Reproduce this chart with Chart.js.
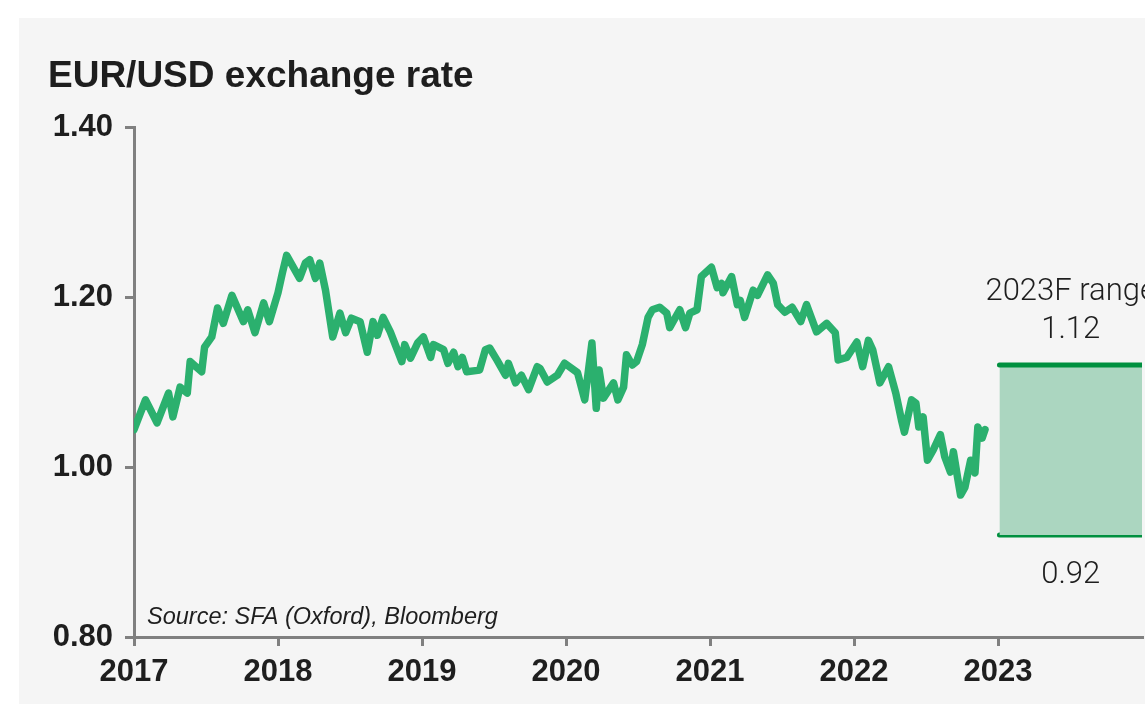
<!DOCTYPE html>
<html>
<head>
<meta charset="utf-8">
<script src="https://cdn.jsdelivr.net/npm/chart.js@4/dist/chart.umd.min.js"></script>
<style>
  html, body { margin: 0; padding: 0; background: #ffffff; }
  #wrap { width: 1145px; height: 704px; }
</style>
</head>
<body>
<div id="wrap"><canvas id="fxChart" width="1145" height="704"></canvas></div>
<script>
// EUR/USD (decimal years)
const dates = [
  2017.00, 2017.08, 2017.16, 2017.24, 2017.27, 2017.32, 2017.37, 2017.39, 2017.47, 2017.49,
  2017.54, 2017.58, 2017.62, 2017.68, 2017.76, 2017.79, 2017.84, 2017.90, 2017.94, 2018.00,
  2018.03, 2018.06, 2018.15, 2018.19, 2018.22, 2018.26, 2018.29, 2018.33, 2018.38, 2018.43,
  2018.47, 2018.51, 2018.57, 2018.62, 2018.66, 2018.69, 2018.73, 2018.78, 2018.86, 2018.88,
  2018.92, 2018.97, 2019.01, 2019.06, 2019.08, 2019.15, 2019.18, 2019.22, 2019.25, 2019.28,
  2019.31, 2019.40, 2019.44, 2019.47, 2019.52, 2019.58, 2019.60, 2019.65, 2019.69, 2019.74,
  2019.80, 2019.82, 2019.87, 2019.94, 2019.99, 2020.08, 2020.13, 2020.18, 2020.21, 2020.23,
  2020.26, 2020.33, 2020.36, 2020.40, 2020.42, 2020.46, 2020.49, 2020.53, 2020.57, 2020.60,
  2020.65, 2020.70, 2020.72, 2020.79, 2020.83, 2020.86, 2020.91, 2020.94, 2021.01, 2021.05,
  2021.08, 2021.09, 2021.15, 2021.19, 2021.21, 2021.24, 2021.30, 2021.33, 2021.40, 2021.44,
  2021.47, 2021.52, 2021.57, 2021.63, 2021.67, 2021.74, 2021.81, 2021.87, 2021.89, 2021.95,
  2022.02, 2022.06, 2022.10, 2022.13, 2022.18, 2022.24, 2022.29, 2022.33, 2022.35, 2022.40,
  2022.43, 2022.45, 2022.48, 2022.51, 2022.55, 2022.60, 2022.63, 2022.67, 2022.69, 2022.72,
  2022.74, 2022.77, 2022.81, 2022.84, 2022.86, 2022.89, 2022.91
];
const rates = [
  1.044, 1.079, 1.052, 1.087, 1.059, 1.094, 1.087, 1.124, 1.112, 1.141,
  1.153, 1.187, 1.169, 1.202, 1.171, 1.185, 1.158, 1.193, 1.171, 1.205,
  1.228, 1.249, 1.222, 1.240, 1.244, 1.222, 1.240, 1.208, 1.153, 1.181,
  1.158, 1.175, 1.171, 1.135, 1.171, 1.155, 1.176, 1.159, 1.124, 1.144,
  1.128, 1.146, 1.153, 1.129, 1.144, 1.138, 1.122, 1.135, 1.118, 1.129,
  1.112, 1.114, 1.138, 1.140, 1.126, 1.108, 1.122, 1.099, 1.108, 1.091,
  1.118, 1.116, 1.100, 1.108, 1.122, 1.111, 1.079, 1.146, 1.069, 1.114,
  1.081, 1.099, 1.079, 1.094, 1.132, 1.120, 1.124, 1.144, 1.176, 1.185,
  1.188, 1.181, 1.164, 1.185, 1.164, 1.181, 1.185, 1.224, 1.235, 1.211,
  1.216, 1.205, 1.224, 1.191, 1.196, 1.176, 1.208, 1.202, 1.226, 1.216,
  1.191, 1.182, 1.188, 1.171, 1.191, 1.159, 1.169, 1.158, 1.126, 1.129,
  1.147, 1.118, 1.149, 1.138, 1.099, 1.118, 1.087, 1.055, 1.041, 1.079,
  1.075, 1.047, 1.059, 1.008, 1.020, 1.038, 1.012, 0.994, 1.018, 0.987,
  0.967, 0.976, 1.008, 0.993, 1.047, 1.034, 1.044
];

// 2023 forecast range
const rangeYears = [2023.01, 2024];
const rangeHigh = 1.12;
const rangeLow = 0.92;

const yearMin = 2017, yearMax = 2024;
const rateMin = 0.80, rateMax = 1.40, rateStep = 0.20;

const INK = '#1e1e1e';
const AXIS = '#808080';
const SANS = '"Liberation Sans", Arial, sans-serif';

const panelAndText = {
    id: 'panelAndText',
    beforeDraw(chart) {
        const c = chart.ctx;
        c.save();
        c.fillStyle = '#ffffff';
        c.fillRect(0, 0, chart.width, chart.height);
        c.fillStyle = '#f5f5f5';
        c.fillRect(19, 18, chart.width - 19, chart.height - 18);
        c.restore();
    },
    afterDraw(chart) {
        const c = chart.ctx;
        const xs = chart.scales.x, ys = chart.scales.y;
        c.save();
        c.fillStyle = INK;
        c.textBaseline = 'alphabetic';

        // title
        c.textAlign = 'left';
        c.font = 'bold 37px ' + SANS;
        c.fillText('EUR/USD exchange rate', 48, 87);

        // source note
        c.font = 'italic 23.5px ' + SANS;
        c.fillText('Source: SFA (Oxford), Bloomberg', 147, 624);

        // forecast range labels
        const cx = xs.getPixelForValue((rangeYears[0] + rangeYears[1]) / 2);
        const yHigh = ys.getPixelForValue(rangeHigh);
        const yLow = ys.getPixelForValue(rangeLow);
        c.textAlign = 'center';
        c.font = '300 31px Roboto, ' + SANS;
        c.fillText('2023F range', cx, yHigh - 65);
        c.fillText(rangeHigh.toFixed(2), cx, yHigh - 27);
        c.fillText(rangeLow.toFixed(2), cx, yLow + 48);
        c.restore();
    }
};

const ctx = document.getElementById('fxChart').getContext('2d');
const chart = new Chart(ctx, {
    type: 'line',
    data: {
        datasets: [{
            label: 'EUR/USD',
            data: dates.map((d, i) => ({ x: d, y: rates[i] })),
            borderColor: '#2bb06e',
            borderWidth: 7.5,
            borderJoinStyle: 'round',
            borderCapStyle: 'round',
            pointRadius: 0,
            tension: 0,
            fill: false
        }, {
            label: 'high',
            data: rangeYears.map(d => ({ x: d, y: rangeHigh })),
            borderColor: '#00903f',
            borderWidth: 5,
            borderCapStyle: 'round',
            backgroundColor: '#abd6c0',
            pointRadius: 0,
            fill: '+1'
        }, {
            label: 'low',
            data: rangeYears.map(d => ({ x: d, y: rangeLow })),
            borderColor: '#00903f',
            borderWidth: 5,
            borderCapStyle: 'round',
            pointRadius: 0,
            fill: false
        }]
    },
    options: {
        responsive: false,
        animation: false,
        layout: { padding: { left: 0, top: 127, right: 3, bottom: 0 } },
        scales: {
            x: {
                type: 'linear',
                min: yearMin,
                max: yearMax,
                afterFit(scale) {
                    scale.height = 67;
                    scale.paddingRight = 0;
                },
                ticks: {
                    stepSize: 1,
                    padding: 8,
                    color: INK,
                    font: { family: SANS, size: 31, weight: 'bold' },
                    callback: v => (v < yearMax ? String(v) : '')
                },
                grid: {
                    drawOnChartArea: false,
                    tickLength: 9,
                    lineWidth: 3,
                    color: c => (c.tick && c.tick.value >= yearMax ? 'rgba(0,0,0,0)' : AXIS)
                },
                border: { color: AXIS, width: 3 }
            },
            y: {
                min: rateMin,
                max: rateMax,
                afterFit(scale) { scale.width = 134; },
                ticks: {
                    stepSize: rateStep,
                    padding: 12,
                    color: INK,
                    font: { family: SANS, size: 31, weight: 'bold' },
                    callback: v => Number(v).toFixed(2)
                },
                grid: { drawOnChartArea: false, tickLength: 9, color: AXIS, lineWidth: 3 },
                border: { color: AXIS, width: 3 }
            }
        },
        plugins: {
            legend: { display: false },
            tooltip: { enabled: false }
        }
    },
    plugins: [panelAndText]
});
</script>
</body>
</html>
